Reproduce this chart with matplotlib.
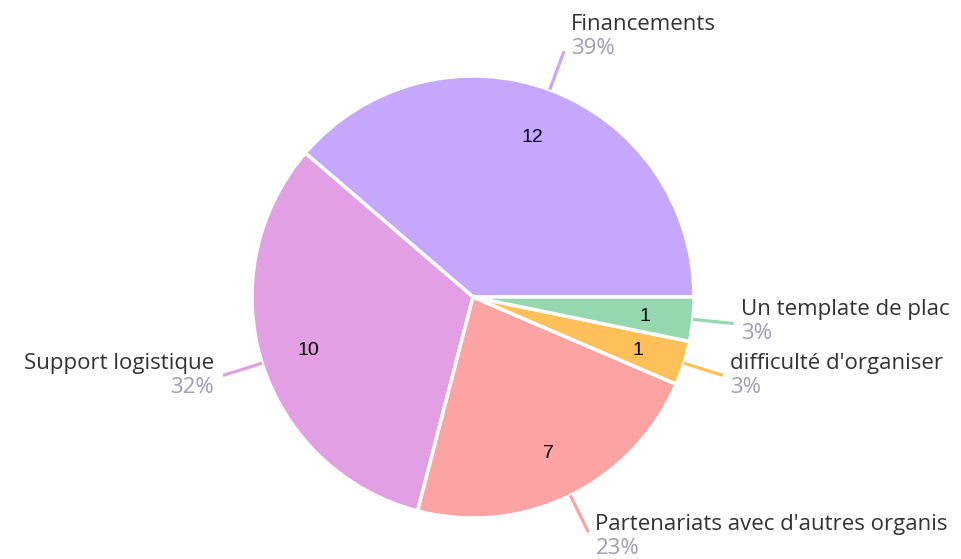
import numpy as np
import matplotlib.pyplot as plt

# Data (long labels are cut at the right edge in the original, kept as shown)
labels = ['Financements', 'Support logistique', "Partenariats avec d'autres organis",
          "difficulté d'organiser", 'Un template de plac']
counts = [12, 10, 7, 1, 1]
colors = ['#c6a7fe', '#e29fe3', '#fca3a3', '#ffc05a', '#95d8b0']

total = sum(counts)
pcts = [round(c / total * 100) for c in counts]

fig = plt.figure(figsize=(9.62, 5.59), dpi=100)
ax = fig.add_axes([0, 0, 1, 1])

R = 221
wedges, texts = ax.pie(counts, colors=colors, radius=R, startangle=0, counterclock=True,
                       labels=[str(c) for c in counts], labeldistance=0.78,
                       wedgeprops=dict(edgecolor='white', linewidth=2.5),
                       textprops=dict(fontsize=14, family='Liberation Sans', color='black'))
for t in texts:
    t.set_ha('center')
    t.set_va('center')
    x, y = t.get_position()
    t.set_position((x, y - 2))

ax.set_xlim(-473, 962 - 473)
ax.set_ylim(-262, 297)
ax.set_aspect('equal')
ax.axis('off')

# outside labels with leader lines
for w, name, p, col in zip(wedges, labels, pcts, colors):
    ang = np.deg2rad((w.theta1 + w.theta2) / 2)
    c, s = np.cos(ang), np.sin(ang)
    x0, y0 = R * c, R * s
    x1, y1 = 262 * c, 262 * s
    ax.plot([x0, x1], [y0, y1], color=col, lw=2.3, solid_capstyle='butt')
    ha = 'left' if c >= 0 else 'right'
    dx = 7 if c >= 0 else -9
    yn = y1 + 15 + 10.5 * s + 2.4 * s * s
    ax.text(x1 + dx, yn, name, ha=ha, va='center', fontsize=16, family='Open Sans',
            color='#333333')
    ax.text(x1 + dx, yn - 24, f'{p}%', ha=ha, va='center', fontsize=16, family='Open Sans',
            color='#9d9db8')

fig.savefig('out.png', dpi=100, facecolor='white')
